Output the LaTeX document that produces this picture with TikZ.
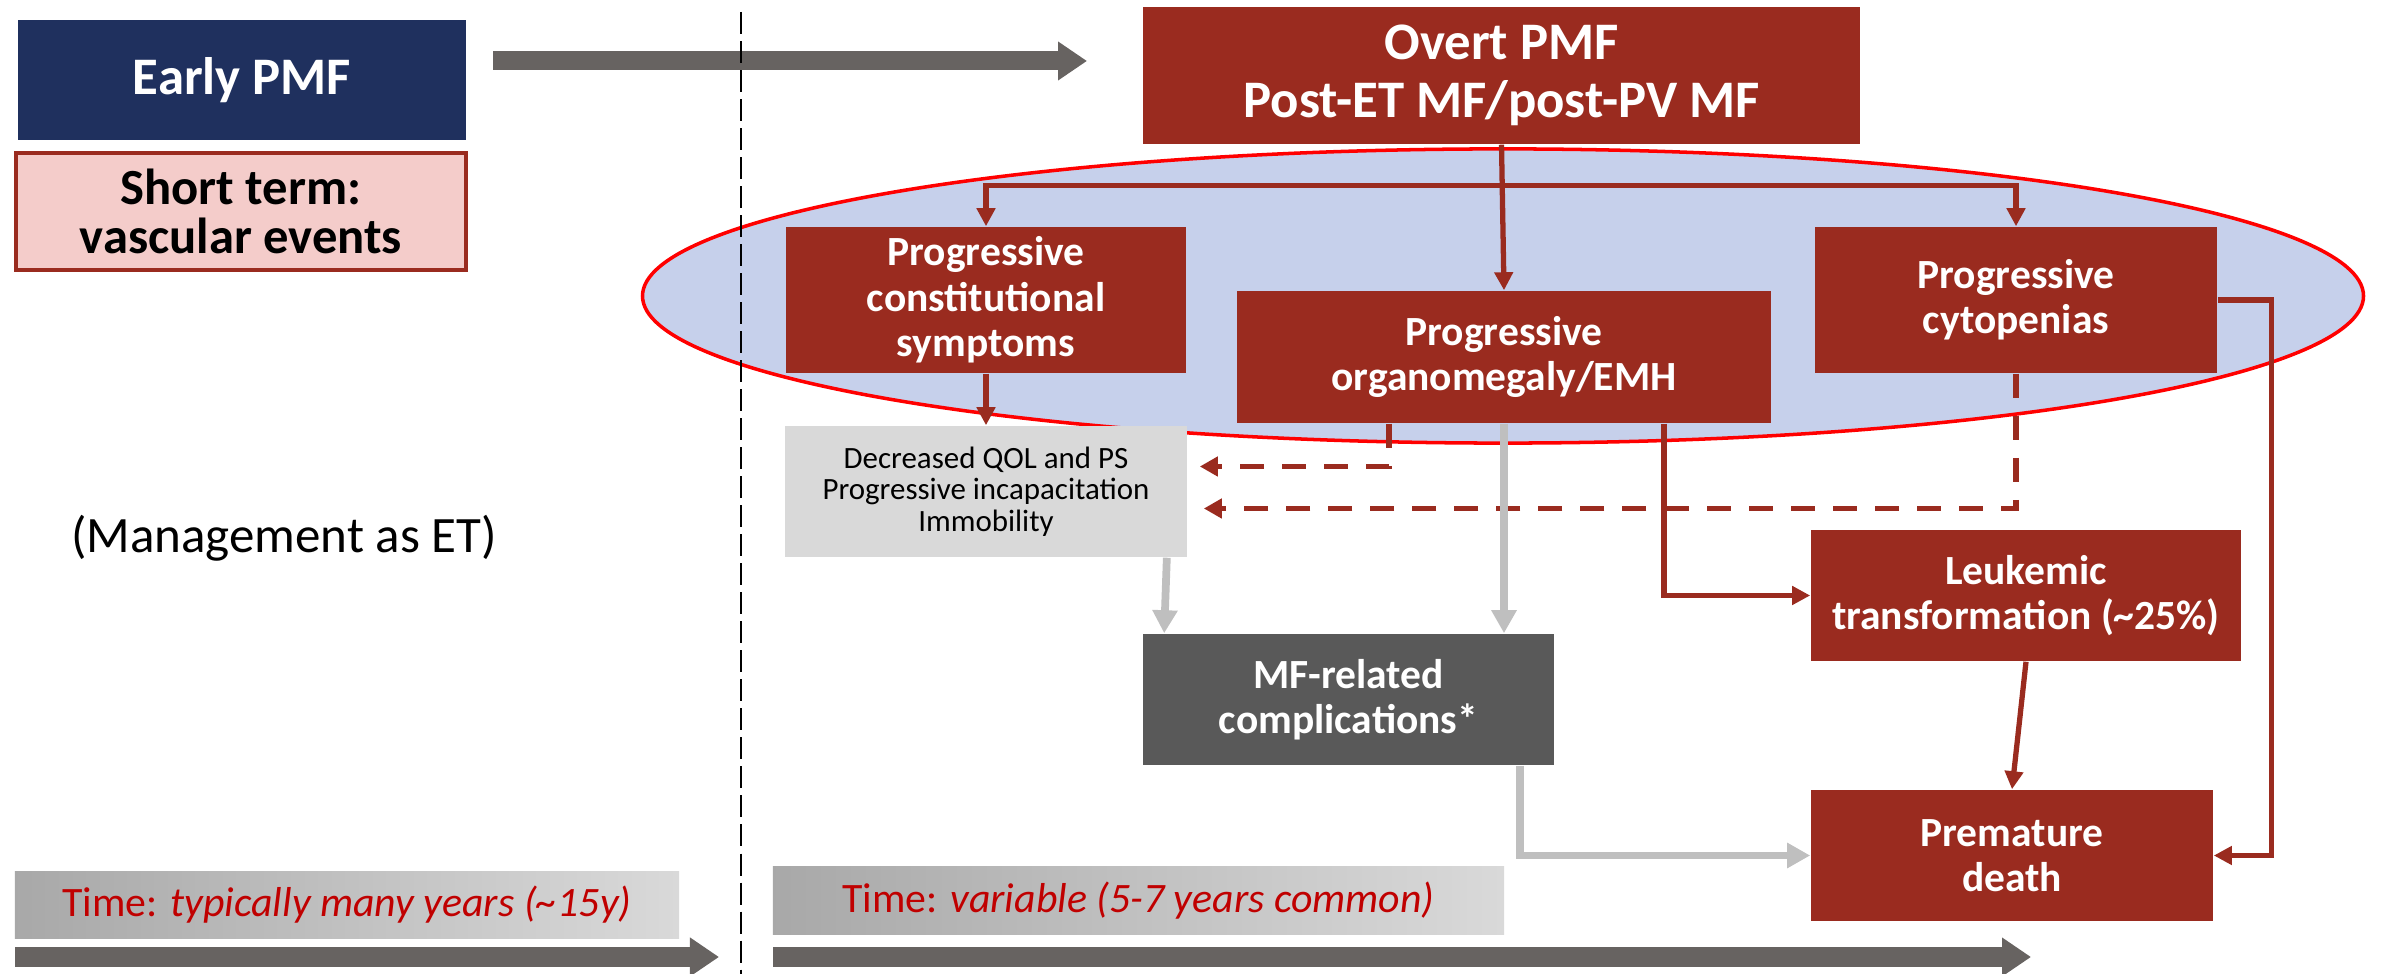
\documentclass[tikz,border=0pt]{standalone}
\usepackage{fontspec}
\setmainfont{Carlito}
\usetikzlibrary{arrows.meta,calc}
\definecolor{pmfred}{HTML}{9A2B1F}
\definecolor{pmfnavy}{HTML}{1F305E}
\definecolor{pmfpink}{HTML}{F4CCCA}
\definecolor{pmfblue}{HTML}{C6D0EB}
\definecolor{arrowgray}{HTML}{676361}
\definecolor{linegray}{HTML}{BFBFBF}
\definecolor{qolgray}{HTML}{D9D9D9}
\definecolor{mfgray}{HTML}{595959}
\definecolor{timered}{HTML}{C00000}
\begin{document}
\begin{tikzpicture}[x=0.01cm, y=-0.01cm,
  box/.style={rectangle, inner sep=0pt, align=center, text=white,
    font=\bfseries\fontsize{11.8}{12.9}\selectfont},
  redbox/.style={box, fill=pmfred},
  bigtext/.style={font=\bfseries\fontsize{15}{16.3}\selectfont},
  timebar/.style={rectangle, inner sep=0pt, minimum height=0.67cm,
    left color=black!34, right color=qolgray, text=timered,
    font=\fontsize{11.9}{13}\selectfont},
  bigarrow/.style={draw=arrowgray, line width=0.19cm,
    -{Triangle[length=0.29cm, width=0.37cm]}},
  redarrow/.style={draw=pmfred, line width=1.5pt,
    -{Triangle[length=0.18cm, width=0.18cm]}},
  reddash/.style={draw=pmfred, line width=1.7pt, dash pattern=on 0.24cm off 0.18cm,
    -{Triangle[length=0.18cm, width=0.19cm]}},
  grayarrow/.style={draw=linegray, line width=2.2pt,
    -{Triangle[length=0.23cm, width=0.24cm]}}]
  \useasboundingbox (0,0) rectangle (2382,974);
  % ellipse
  \draw[fill=pmfblue, draw=red, line width=1pt] (1503,296) ellipse [x radius=8.6cm, y radius=1.47cm];
  % left side
  \node[box, bigtext, fill=pmfnavy, minimum width=4.48cm, minimum height=1.2cm] (early) at (242,80) {Early PMF};
  \node[box, fill=pmfpink, draw=pmfred, line width=1.2pt, text=black,
    font=\bfseries\fontsize{14.4}{14}\selectfont,
    minimum width=4.5cm, minimum height=1.17cm] (short) at (241,211.5) {Short term:\\vascular events};
  \node[font=\fontsize{14.5}{16}\selectfont] (mgmt) at (284,538) {(Management as ET)};
  % boxes
  \node[redbox, bigtext, minimum width=7.17cm, minimum height=1.37cm] (overt) at (1501.5,75.5)
    {Overt PMF\\Post-ET MF/post-PV MF};
  \node[redbox, minimum width=4cm, minimum height=1.46cm] (constit) at (986,300)
    {Progressive\\constitutional\\symptoms};
  \node[redbox, minimum width=5.34cm, minimum height=1.32cm] (organo) at (1504,357)
    {Progressive\\organomegaly/EMH};
  \node[redbox, minimum width=4.02cm, minimum height=1.46cm] (cyto) at (2016,300)
    {Progressive\\cytopenias};
  \node[box, fill=qolgray, text=black, font=\fontsize{8.8}{8.9}\selectfont,
    minimum width=4.02cm, minimum height=1.31cm] (qol) at (986,491.5)
    {Decreased QOL and PS\\Progressive incapacitation\\Immobility};
  \node[box, fill=mfgray, minimum width=4.11cm, minimum height=1.31cm] (mf) at (1348.5,699.5)
    {MF-related\\complications*};
  \node[redbox, minimum width=4.3cm, minimum height=1.31cm] (leuk) at (2026,595.5)
    {Leukemic\\transformation (\textasciitilde 25\%)};
  \node[redbox, minimum width=4.02cm, minimum height=1.31cm] (death) at (2012,855.5)
    {Premature\\death};
  % time
  \node[timebar, minimum width=6.64cm] (time1) at (347,905)
    {Time: \textit{typically many years (\textasciitilde 15y)}};
  \node[timebar, minimum width=7.31cm] (time2) at (1138.5,900.5)
    {Time: \textit{variable (5-7 years common)}};
  % coordinates
  \coordinate (a1) at (493,61);
  \coordinate (a2) at (1087,61);
  \coordinate (b1) at (15,957);
  \coordinate (b2) at (719,957);
  \coordinate (c1) at (773,957);
  \coordinate (c2) at (2031,957);
  \coordinate (v1) at (741,12);
  \coordinate (v2) at (741,974);
  \coordinate (split) at ($(overt.south)+(0,41)$);
  % arrows
  \draw[bigarrow] (a1) -- (a2);
  \draw[bigarrow] (b1) -- (b2);
  \draw[bigarrow] (c1) -- (c2);
  \draw[line width=0.5pt, dash pattern=on 0.22cm off 0.07cm] (v1) -- (v2);
  \draw[redarrow] (overt.south) -- (organo.north);
  \draw[redarrow] (split) -| (constit.north);
  \draw[redarrow] (split) -| (cyto.north);
  \draw[redarrow] (constit.south) -- (qol.north);
  \draw[reddash] ($(organo.south west)+(153,0)$) |- ($(qol.east)+(12,-25)$);
  \draw[reddash] (cyto.south) |- ($(qol.east)+(16,17)$);
  \draw[grayarrow] ($(qol.south east)+(-21,0)$) -- ($(mf.north west)+(22,0)$);
  \draw[grayarrow] (organo.south) -- (organo.south |- mf.north);
  \draw[grayarrow] ($(mf.south east)+(-35,0)$) |- (death.west);
  \draw[redarrow] ($(organo.south east)+(-108,0)$) |- (leuk.west);
  \draw[redarrow] (leuk.south) -- (death.north);
  \draw[redarrow] (cyto.east) -- ++(54,0) |- (death.east);
\end{tikzpicture}
\end{document}
